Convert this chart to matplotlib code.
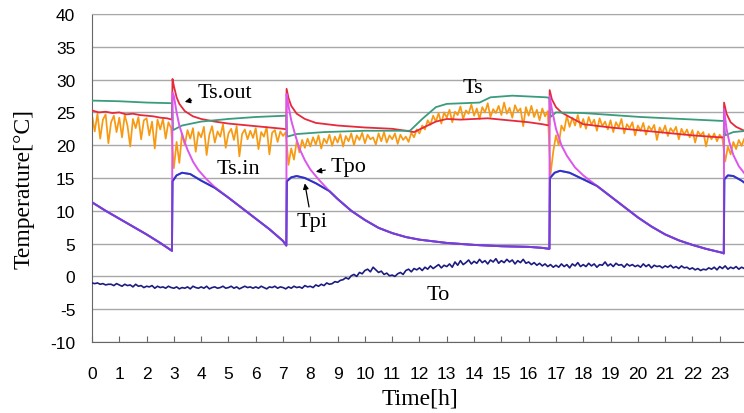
import matplotlib.pyplot as plt
import numpy as np

plt.rcParams['font.family'] = 'Liberation Sans'
plt.rcParams['axes.unicode_minus'] = False

# ---- data ----
# noisy logs, one value every 0.1 h from 0 to 24 h
t_log = np.linspace(0, 24, 241)

ts_in = [
    24.6, 22.1, 24.8, 21.0, 23.9, 24.7, 20.3, 23.5, 24.5, 22.0,
    24.2, 21.2, 24.6, 23.0, 19.8, 24.0, 22.6, 24.3, 20.9, 23.8,
    24.1, 21.5, 23.6, 19.5, 23.9, 22.4, 24.0, 21.0, 23.5, 22.6,
    16.5, 20.5, 17.3, 21.8, 20.0, 22.3, 21.0, 22.6, 19.0, 22.0,
    21.2, 22.8, 18.5, 21.6, 22.9, 20.4, 22.1, 21.3, 23.2, 19.6,
    21.8, 22.5, 20.8, 22.9, 18.3, 21.7, 22.4, 20.9, 22.2, 21.1,
    22.6, 19.4, 22.0, 21.3, 22.8, 18.6, 21.9, 22.3, 20.5, 22.1,
    21.4, 22.0, 17.0, 19.5, 17.8, 20.6, 18.9, 20.8, 19.6, 21.0,
    19.8, 21.2, 20.1, 21.5, 19.5, 21.0, 20.3, 21.6, 19.9, 21.3,
    20.4, 21.7, 19.8, 21.4, 20.6, 21.8, 20.0, 21.5, 20.8, 21.9,
    20.3, 21.6, 20.9, 21.2, 20.1, 21.8, 20.6, 22.0, 20.4, 21.5,
    20.9, 21.8, 20.2, 21.6, 20.8, 21.3, 20.5, 21.9, 21.2, 22.4,
    21.8, 23.0, 22.4, 23.8, 23.1, 24.5, 23.6, 24.9, 23.3, 25.0,
    24.2, 25.4, 23.5, 25.1, 24.6, 25.9, 24.0, 25.3, 24.8, 26.2,
    24.5, 25.6, 24.0, 25.8, 25.0, 26.4, 24.3, 25.5, 24.9, 26.0,
    24.6, 26.5, 24.8, 25.7, 24.2, 26.1, 25.1, 25.6, 22.9, 25.8,
    24.5, 26.0, 24.3, 25.4, 23.8, 25.6, 24.4, 25.2, 15.5, 19.0,
    21.5, 20.0, 23.0, 22.2, 24.5, 22.8, 24.2, 23.0, 24.6, 22.7,
    24.0, 22.5, 24.3, 23.1, 23.9, 22.2, 24.1, 22.9, 23.6, 22.4,
    23.8, 22.0, 23.5, 22.7, 24.0, 21.8, 23.2, 22.6, 23.5, 21.5,
    23.0, 22.2, 23.4, 21.6, 22.9, 22.3, 23.1, 20.8, 22.7, 21.9,
    23.0, 21.4, 22.6, 22.0, 22.8, 20.9, 22.5, 21.6, 22.4, 21.2,
    22.3, 20.4, 22.1, 21.5, 22.0, 19.8, 21.7, 20.9, 21.8, 20.6,
    21.6, 21.0, 17.5, 19.8, 18.6, 20.5, 19.4, 20.8, 19.9, 21.0,
    20.2,
]

t_out_air = [
    -1.0, -1.1, -1.0, -1.2, -1.1, -1.3, -1.2, -1.2, -1.4, -1.1,
    -1.3, -1.5, -1.2, -1.4, -1.3, -1.6, -1.2, -1.5, -1.4, -1.7,
    -1.5, -1.6, -1.4, -1.8, -1.5, -1.7, -1.6, -1.8, -1.5, -1.7,
    -1.8, -1.6, -1.9, -1.7, -1.8, -1.6, -1.9, -1.5, -1.7, -1.8,
    -1.6, -1.8, -1.5, -1.9, -1.7, -1.6, -1.8, -1.7, -1.5, -1.8,
    -1.7, -1.5, -1.8, -1.6, -1.9, -1.7, -1.5, -1.7, -1.6, -1.8,
    -1.6, -1.8, -1.5, -1.7, -1.9, -1.6, -1.7, -1.5, -1.8, -1.6,
    -1.7, -1.9, -1.6, -1.8, -1.5, -1.7, -1.6, -1.8, -1.4, -1.6,
    -1.5, -1.7, -1.3, -1.5, -1.2, -1.4, -1.0, -1.2, -1.1, -0.8,
    -0.9, -0.6, -0.5, -0.2, -0.4, 0.1, 0.3, 0.0, 0.6, 0.4,
    0.9, 1.1, 0.7, 1.4, 1.0, 0.6, 0.8, 0.3, 0.5, 0.1,
    0.2, 0.0, 0.4, 0.6, 0.3, 0.9, 1.1, 0.7, 1.2, 1.0,
    1.3, 0.9, 1.4, 1.1, 1.6, 1.2, 1.5, 1.8, 1.3, 1.7,
    1.5, 1.9, 1.4, 2.2, 1.7, 2.4, 1.8, 2.1, 2.5, 1.9,
    2.3, 2.0, 2.6, 2.1, 2.4, 1.9, 2.5, 2.2, 2.7, 2.0,
    2.4, 2.1, 2.6, 2.2, 2.5, 1.9, 2.4, 2.1, 2.6, 2.0,
    2.2, 1.8, 2.1, 1.7, 2.0, 1.6, 1.9, 1.5, 1.8, 1.4,
    1.7, 1.4, 1.9, 1.5, 1.8, 1.3, 1.9, 1.6, 2.1, 1.5,
    1.8, 1.5, 2.0, 1.6, 1.9, 1.4, 1.8, 1.7, 2.2, 1.6,
    1.9, 1.5, 2.0, 1.7, 1.8, 1.4, 1.9, 1.6, 1.8, 1.5,
    1.7, 1.4, 1.9, 1.5, 1.8, 1.3, 1.7, 1.5, 1.6, 1.3,
    1.6, 1.4, 1.7, 1.3, 1.5, 1.2, 1.6, 1.3, 1.4, 1.1,
    1.3, 1.0, 1.2, 0.9, 1.1, 1.0, 1.3, 1.1, 1.4, 1.0,
    1.5, 1.2, 1.6, 1.1, 1.4, 1.2, 1.5, 1.1, 1.4, 1.2,
    1.3,
]

# smooth curves: (time, value) pairs
ts_t = [0, 1, 2, 2.94, 2.97, 3.3, 4, 5, 6, 7.12, 7.15, 7.5, 8.5, 10, 11.5,
        11.65, 12.1, 12.6, 13, 14.2, 14.6, 15.4, 16.65, 16.76, 16.8, 17.0,
        18, 20.1, 23.1, 23.15, 23.2, 23.5, 24]
ts_v = [26.8, 26.7, 26.5, 26.4, 22.3, 23.0, 23.6, 24.0, 24.3, 24.5, 21.3,
        21.7, 22.0, 22.2, 22.2, 22.2, 24.0, 25.8, 26.3, 26.5, 27.3, 27.55,
        27.3, 27.2, 24.3, 25.0, 24.9, 24.3, 23.7, 23.7, 21.5, 22.0, 22.2]

ts_out_t = [0, 0.25, 0.5, 0.75, 1.0, 1.25, 1.5, 1.75, 2.0, 2.25, 2.5, 2.75,
            2.93, 2.95, 3.0, 3.1, 3.2, 3.4, 3.7, 4.0, 4.5, 5, 6, 7.0, 7.12,
            7.13, 7.2, 7.3, 7.5, 7.8, 8.2, 9, 10, 11, 11.5, 11.8, 12.0, 12.3,
            12.6, 13.0, 13.5, 14, 14.5, 15, 15.5, 16, 16.5, 16.76, 16.77,
            16.85, 17.0, 17.2, 17.5, 18, 19, 20, 21, 22, 23, 23.15, 23.16,
            23.25, 23.4, 23.6, 24]
ts_out_v = [25.3, 25.0, 25.1, 24.9, 25.0, 24.7, 24.8, 24.6, 24.5, 24.4, 24.2,
            24.1, 23.9, 30.1, 29.0, 27.3, 26.3, 25.2, 24.4, 24.0, 23.6, 23.3,
            22.9, 22.5, 22.4, 28.6, 27.2, 26.0, 24.8, 24.0, 23.4, 23.0, 22.7,
            22.5, 22.2, 22.0, 22.4, 23.0, 23.6, 24.0, 23.9, 24.0, 24.1, 23.9,
            23.7, 23.5, 23.2, 23.0, 28.4, 27.0, 25.8, 25.0, 24.3, 23.2, 22.7,
            22.3, 21.9, 21.5, 21.2, 21.2, 26.5, 24.8, 23.5, 22.8, 22.0]

tpo_t = [0, 0.5, 1, 1.5, 2, 2.5, 2.93, 2.95, 3.0, 3.1, 3.2, 3.35, 3.5, 3.7,
         3.9, 4.2, 4.5, 5, 5.5, 6, 6.5, 7.0, 7.12, 7.13, 7.2, 7.3, 7.45, 7.6,
         7.8, 8.0, 8.3, 8.7, 9, 9.5, 10, 10.5, 11, 11.5, 12, 13, 14, 15, 16,
         16.5, 16.76, 16.77, 16.85, 17.0, 17.2, 17.4, 17.7, 18.0, 18.5, 19,
         19.5, 20, 20.5, 21, 21.5, 22, 22.5, 23.1, 23.15, 23.16, 23.25, 23.35,
         23.5, 23.7, 24]
tpo_v = [11.3, 10.0, 8.8, 7.6, 6.4, 5.1, 3.9, 28.0, 27.5, 25.0, 23.0, 21.0,
         19.3, 17.5, 16.2, 14.8, 13.6, 12.0, 10.4, 8.8, 7.2, 5.4, 4.7, 27.8,
         26.0, 23.8, 21.5, 19.5, 17.7, 16.3, 14.8, 13.0, 11.8, 10.0, 8.6, 7.4,
         6.6, 6.0, 5.6, 5.1, 4.8, 4.6, 4.5, 4.35, 4.2, 27.5, 25.5, 22.5, 20.0,
         18.4, 16.6, 15.4, 13.8, 12.2, 10.6, 9.0, 7.6, 6.4, 5.5, 4.8, 4.2, 3.6,
         3.5, 25.5, 22.5, 20.5, 18.5, 16.8, 15.2]

tpi_t = [0, 0.5, 1, 1.5, 2, 2.5, 2.93, 2.95, 3.1, 3.3, 3.6, 4.0, 4.5, 5, 5.5,
         6, 6.5, 7.0, 7.12, 7.14, 7.3, 7.5, 7.8, 8.2, 8.7, 9, 9.5, 10, 10.5,
         11, 11.5, 12, 13, 14, 15, 16, 16.5, 16.76, 16.78, 16.95, 17.15, 17.5,
         17.9, 18.3, 18.5, 19, 19.5, 20, 20.5, 21, 21.5, 22, 22.5, 23.1,
         23.15, 23.17, 23.3, 23.5, 23.8, 24]
tpi_v = [11.3, 10.0, 8.8, 7.6, 6.4, 5.1, 3.9, 14.5, 15.4, 15.8, 15.6, 14.6,
         13.5, 12.0, 10.4, 8.8, 7.2, 5.4, 4.7, 14.5, 15.1, 15.3, 15.0, 14.2,
         13.0, 11.8, 10.0, 8.6, 7.4, 6.6, 6.0, 5.6, 5.1, 4.8, 4.6, 4.5, 4.35,
         4.2, 15.0, 15.8, 16.1, 15.8, 15.0, 14.2, 13.8, 12.2, 10.6, 9.0, 7.6,
         6.4, 5.5, 4.8, 4.2, 3.6, 3.5, 14.8, 15.4, 15.3, 14.6, 14.0]

# ---- figure ----
fig = plt.figure(figsize=(7.44, 4.14), dpi=100)
ax = fig.add_axes([92 / 744, 71 / 414, 655 / 744, 328 / 414])

ax.plot(t_log, ts_in, color='#f79a12', lw=1.25, zorder=2)
ax.plot(ts_out_t, ts_out_v, color='#e62a3c', lw=1.3, zorder=3)
ax.plot(ts_t, ts_v, color='#3a9c7c', lw=1.3, zorder=3)
ax.plot(t_log, t_out_air, color='#1c1c80', lw=1.2, zorder=3)
# Tpi once solid below Tpo, once see-through on top -> purple where they meet
ax.plot(tpi_t, tpi_v, color='#3434cc', lw=1.4, zorder=4)
ax.plot(tpo_t, tpo_v, color='#dc55ec', lw=1.4, zorder=5)
ax.plot(tpi_t, tpi_v, color='#3030c8', lw=1.4, alpha=0.6, zorder=6)

ax.set_xlim(0, 24)
ax.set_ylim(-10, 40)
ax.set_yticks(range(-10, 41, 5))
ax.set_xticks(range(0, 24))
ax.grid(axis='y', color='#a8a8a8', lw=1.0)
ax.set_axisbelow(True)
ax.tick_params(axis='y', length=0, pad=12, labelsize=12.5)
ax.tick_params(axis='x', direction='in', length=4, pad=17, labelsize=12.5,
               color='#666666')
ax.spines['top'].set_color('#a8a8a8')
ax.spines['left'].set_color('#666666')
ax.spines['bottom'].set_color('#666666')
ax.spines['right'].set_visible(False)

ax.text(-0.104, 0.47, 'Temperature[°C]', transform=ax.transAxes,
        rotation=90, ha='center', va='center', fontsize=17,
        family='Liberation Serif')
ax.text(0.5, -0.172, 'Time[h]', transform=ax.transAxes, ha='center',
        va='center', fontsize=17, family='Liberation Serif')

# curve labels
lab = dict(fontsize=16, family='Liberation Serif', va='center')
arr = dict(arrowstyle='-|>', color='black', lw=0.9, mutation_scale=8)
ax.annotate('Ts.out', xy=(3.3, 26.5), xytext=(3.85, 28.1), ha='left',
            arrowprops=arr, **lab)
ax.annotate('Tpo', xy=(8.1, 15.9), xytext=(8.75, 16.8), ha='left',
            arrowprops=arr, **lab)
ax.annotate('Tpi', xy=(7.78, 14.6), xytext=(8.05, 8.3), ha='center',
            arrowprops=arr, **lab)
ax.text(4.55, 16.4, 'Ts.in', ha='left', **lab)
ax.text(13.95, 28.8, 'Ts', ha='center', **lab)
ax.text(12.25, -2.8, 'To', ha='left', **lab)

fig.savefig('out.png', dpi=100)
